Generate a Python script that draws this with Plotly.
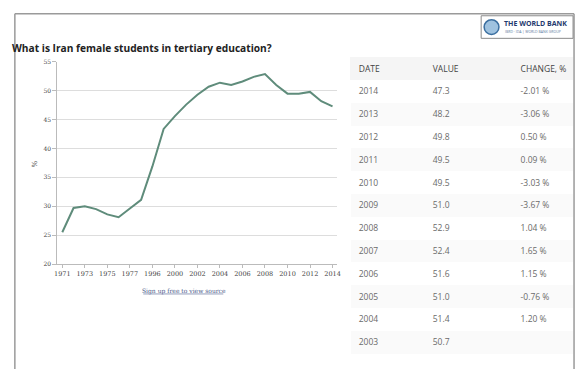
import plotly.graph_objects as go

W, H = 581, 372

# ---- data ----
years = ["1971", "1972", "1973", "1974", "1975", "1976", "1977", "1978", "1996", "1999",
         "2000", "2001", "2002", "2003", "2004", "2005", "2006", "2007", "2008", "2009",
         "2010", "2011", "2012", "2013", "2014"]
values = [25.5, 29.7, 30.0, 29.5, 28.6, 28.1, 29.6, 31.1, 36.9, 43.4,
          45.6, 47.6, 49.3, 50.7, 51.4, 51.0, 51.6, 52.4, 52.9, 51.0,
          49.5, 49.5, 49.8, 48.2, 47.3]
tick_labels = ["1971", "1973", "1975", "1977", "1996", "2000", "2002", "2004",
               "2006", "2008", "2010", "2012", "2014"]
y_ticks = [20, 25, 30, 35, 40, 45, 50, 55]

table_dates = ["2014", "2013", "2012", "2011", "2010", "2009", "2008", "2007",
               "2006", "2005", "2004", "2003"]
table_values = ["47.3", "48.2", "49.8", "49.5", "49.5", "51.0", "52.9", "52.4",
                "51.6", "51.0", "51.4", "50.7"]
table_changes = ["-2.01\u00a0%", "-3.06\u00a0%", "0.50\u00a0%", "0.09\u00a0%", "-3.03\u00a0%",
                 "-3.67\u00a0%", "1.04\u00a0%", "1.65\u00a0%", "1.15\u00a0%", "-0.76\u00a0%",
                 "1.20\u00a0%", ""]
table_header = ["DATE", "VALUE", "CHANGE,\u00a0%"]


def px(x):
    return x / W


def py(y):
    return 1 - y / H


fig = go.Figure()

fig.add_trace(go.Scatter(
    x=years, y=values, mode="lines",
    line=dict(color="#5f8c7b", width=2),
    hoverinfo="x+y", showlegend=False,
))

row_fill = ["#ffffff" if i % 2 == 0 else "#fafafa" for i in range(len(table_dates))]
fig.add_trace(go.Table(
    domain=dict(x=[px(352), px(577)], y=[py(360), py(55)]),
    columnwidth=[75, 89, 61],
    header=dict(
        values=table_header, align="left", height=22,
        fill_color="#f5f5f5", line_color="#f5f5f5",
        font=dict(family="Open Sans", size=8.5, color="#444444"),
    ),
    cells=dict(
        values=[table_dates, table_values, table_changes], align="left", height=22.8,
        fill_color=[row_fill] * 3, line_color="rgba(0,0,0,0)",
        font=dict(family="Open Sans", size=8.5, color="#6a6a6a"),
    ),
))

fig.update_layout(
    width=W, height=H, autosize=False,
    margin=dict(l=0, r=0, t=0, b=0),
    paper_bgcolor="white", plot_bgcolor="white",
    xaxis=dict(
        domain=[px(55), px(338)], type="category",
        range=[-0.44, len(years) - 1 + 0.39],
        tickmode="array", tickvals=tick_labels, ticktext=tick_labels,
        showgrid=False, showline=True, linecolor="#bbbbbb", linewidth=1,
        ticks="outside", ticklen=3, tickcolor="#bbbbbb",
        tickfont=dict(family="DejaVu Serif", size=6.5, color="#444444"),
        tickangle=0, zeroline=False, fixedrange=True,
    ),
    yaxis=dict(
        domain=[py(265), py(59)], range=[20, 55],
        tickmode="array", tickvals=y_ticks,
        showgrid=True, gridcolor="#dddddd", gridwidth=1,
        showline=True, linecolor="#bbbbbb", linewidth=1,
        ticks="outside", ticklen=4, tickcolor="#bbbbbb",
        tickfont=dict(family="DejaVu Serif", size=6, color="#444444"),
        zeroline=False, fixedrange=True,
    ),
    shapes=[
        # outer page frame
        dict(type="line", xref="paper", yref="paper", x0=px(12), x1=px(578),
             y0=py(10), y1=py(10), line=dict(color="#9a9a9a", width=1.5)),
        dict(type="line", xref="paper", yref="paper", x0=px(12), x1=px(12),
             y0=py(10), y1=0, line=dict(color="#9a9a9a", width=1.5)),
        dict(type="line", xref="paper", yref="paper", x0=px(578), x1=px(578),
             y0=py(10), y1=0, line=dict(color="#9a9a9a", width=1.5)),
        # logo box
        dict(type="rect", xref="paper", yref="paper", x0=px(484), x1=px(577),
             y0=py(35), y1=py(12), line=dict(color="#8a8a8a", width=1),
             fillcolor="white"),
        dict(type="circle", xref="paper", yref="paper", x0=px(487), x1=px(502),
             y0=py(31), y1=py(16), line=dict(color="#3b6fa0", width=1.5),
             fillcolor="#9fc2df"),
        # underline for the source link
        dict(type="line", xref="paper", yref="paper", x0=px(142), x1=px(223),
             y0=py(295.5), y1=py(295.5), line=dict(color="#4a5a8a", width=0.6)),
    ],
    annotations=[
        dict(text="<b>What is Iran female students in tertiary education?</b>",
             xref="paper", yref="paper", x=px(7), y=py(45), xanchor="left",
             yanchor="middle", showarrow=False,
             font=dict(family="Open Sans", size=10.2, color="#222222")),
        dict(text="%", xref="paper", yref="paper", x=px(32), y=py(163),
             xanchor="center", yanchor="middle", showarrow=False, textangle=-90,
             font=dict(family="DejaVu Serif", size=7, color="#444444")),
        dict(text="Sign up free to view source", xref="paper", yref="paper",
             x=px(183), y=py(292), xanchor="center", yanchor="middle",
             showarrow=False,
             font=dict(family="DejaVu Serif", size=6, color="#4a5a8a")),
        dict(text="<b>THE WORLD BANK</b>", xref="paper", yref="paper",
             x=px(505), y=py(20), xanchor="left", yanchor="middle",
             showarrow=False,
             font=dict(family="Open Sans", size=7, color="#1f3a6e")),
        dict(text="IBRD · IDA | WORLD BANK GROUP", xref="paper", yref="paper",
             x=px(506), y=py(28), xanchor="left", yanchor="middle",
             showarrow=False,
             font=dict(family="Open Sans", size=3.5, color="#5a7aa0")),
    ],
)

fig.write_html("out.html")
